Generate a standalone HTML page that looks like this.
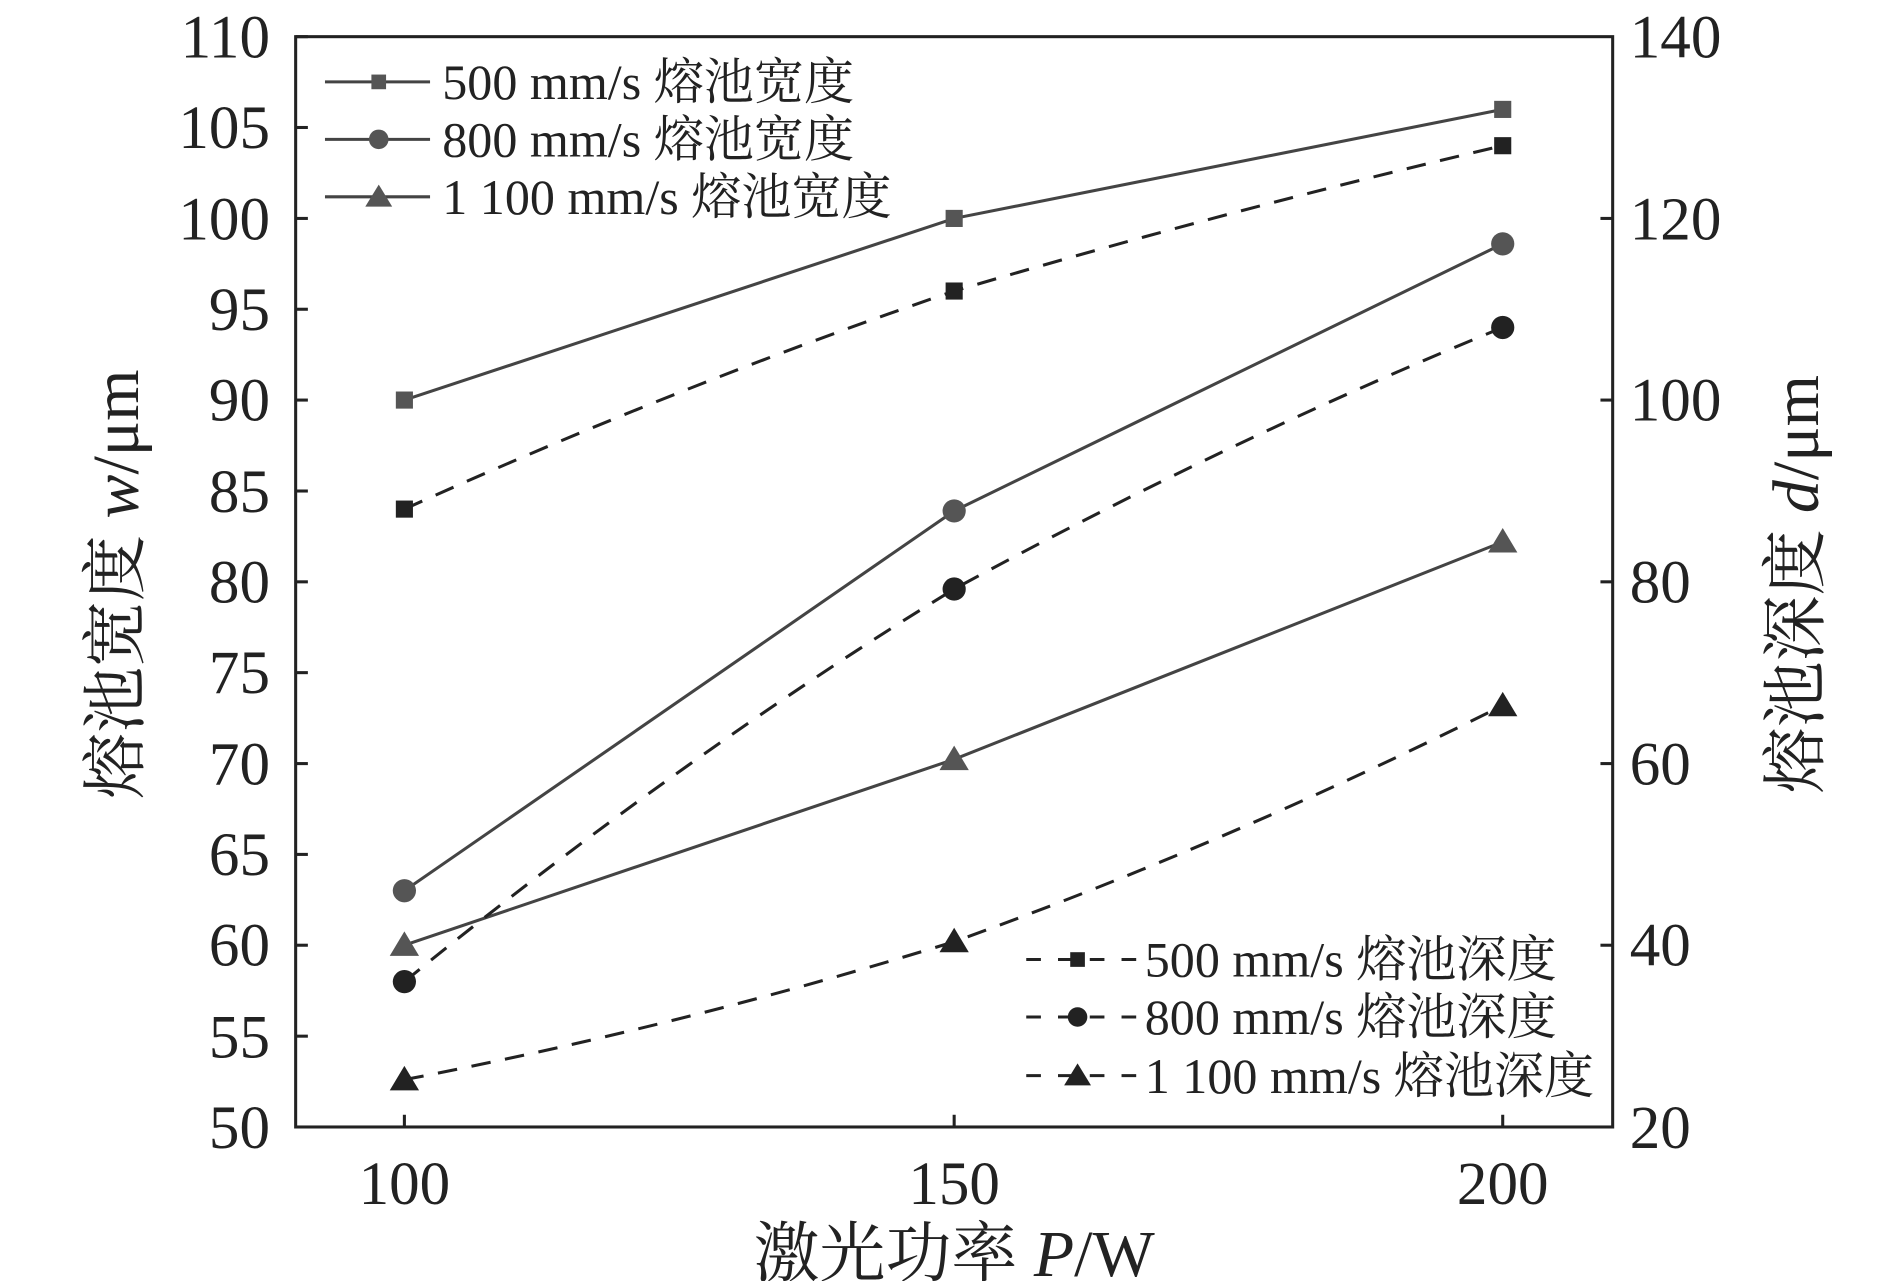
<!DOCTYPE html>
<html><head><meta charset="utf-8"><style>
html,body{margin:0;padding:0;background:#fff}
svg{display:block}
text{font-family:"Liberation Serif","Noto Serif CJK SC",serif;fill:#222}
</style></head><body>
<svg width="1890" height="1281" viewBox="0 0 1547 1048" preserveAspectRatio="none">
<rect x="242" y="30" width="1078" height="892" fill="none" stroke="#222" stroke-width="2.5"/>
<g stroke="#222" stroke-width="2.5">
<line x1="242" y1="30" x2="252" y2="30"/><line x1="242" y1="104.3" x2="252" y2="104.3"/><line x1="242" y1="178.7" x2="252" y2="178.7"/><line x1="242" y1="253" x2="252" y2="253"/><line x1="242" y1="327.3" x2="252" y2="327.3"/><line x1="242" y1="401.7" x2="252" y2="401.7"/><line x1="242" y1="476" x2="252" y2="476"/><line x1="242" y1="550.3" x2="252" y2="550.3"/><line x1="242" y1="624.7" x2="252" y2="624.7"/><line x1="242" y1="699" x2="252" y2="699"/><line x1="242" y1="773.3" x2="252" y2="773.3"/><line x1="242" y1="847.7" x2="252" y2="847.7"/>
<line x1="1320" y1="178.7" x2="1310" y2="178.7"/><line x1="1320" y1="327.3" x2="1310" y2="327.3"/><line x1="1320" y1="476" x2="1310" y2="476"/><line x1="1320" y1="624.7" x2="1310" y2="624.7"/><line x1="1320" y1="773.3" x2="1310" y2="773.3"/>
<line x1="331" y1="922" x2="331" y2="912"/><line x1="781" y1="922" x2="781" y2="912"/><line x1="1230" y1="922" x2="1230" y2="912"/>
</g>
<g font-size="50" text-anchor="end">
<text x="221" y="47">110</text><text x="221" y="121">105</text><text x="221" y="196">100</text><text x="221" y="270">95</text><text x="221" y="344">90</text><text x="221" y="419">85</text><text x="221" y="493">80</text><text x="221" y="567">75</text><text x="221" y="642">70</text><text x="221" y="716">65</text><text x="221" y="790">60</text><text x="221" y="865">55</text><text x="221" y="939">50</text>
</g>
<g font-size="50">
<text x="1334" y="47">140</text><text x="1334" y="196">120</text><text x="1334" y="344">100</text><text x="1334" y="493">80</text><text x="1334" y="642">60</text><text x="1334" y="790">40</text><text x="1334" y="939">20</text>
</g>
<g font-size="50" text-anchor="middle">
<text x="331" y="985">100</text><text x="781" y="985">150</text><text x="1230" y="985">200</text>
</g>
<g font-size="54" text-anchor="middle">
<text x="781" y="1044">激光功率 <tspan font-style="italic">P</tspan>/W</text>
<text transform="translate(113,478) rotate(-90)">熔池宽度 <tspan font-style="italic">w</tspan>/μm</text>
<text transform="translate(1488,478) rotate(-90)">熔池深度 <tspan font-style="italic">d</tspan>/μm</text>
</g>
<g fill="none" stroke="#444" stroke-width="2.5">
<polyline points="331,327.3 781,178.7 1230,89.5"/>
<polyline points="331,728.7 781,418 1230,199.5"/>
<polyline points="331,773.3 781,621.2 1230,443.3"/>
</g>
<g fill="none" stroke="#222" stroke-width="2.5" stroke-dasharray="16,12">
<path d="M331,416.5 Q556,315 781,238.1 Q1005,172 1230,119.2"/>
<path d="M331,803.1 Q556,620 781,481.9 Q1005,360 1230,267.9"/>
<path d="M331,883.3 Q556,840 781,770.4 Q1005,690 1230,577.1"/>
</g>
<g fill="#555">
<rect x="324" y="320.3" width="14" height="14"/><rect x="774" y="171.7" width="14" height="14"/><rect x="1223" y="82.5" width="14" height="14"/>
<circle cx="331" cy="728.7" r="9.5"/><circle cx="781" cy="418" r="9.5"/><circle cx="1230" cy="199.5" r="9.5"/>
<polygon points="331,762 343,782 319,782"/><polygon points="781,610 793,630 769,630"/><polygon points="1230,432 1242,452 1218,452"/>
</g>
<g fill="#222">
<rect x="324" y="409.5" width="14" height="14"/><rect x="774" y="231.1" width="14" height="14"/><rect x="1223" y="112.2" width="14" height="14"/>
<circle cx="331" cy="803.1" r="9.5"/><circle cx="781" cy="481.9" r="9.5"/><circle cx="1230" cy="267.9" r="9.5"/>
<polygon points="331,872 343,892 319,892"/><polygon points="781,759 793,779 769,779"/><polygon points="1230,566 1242,586 1218,586"/>
</g>
<g stroke="#444" stroke-width="2.5"><line x1="266" y1="67" x2="352" y2="67"/><line x1="266" y1="114" x2="352" y2="114"/><line x1="266" y1="161" x2="352" y2="161"/></g>
<g fill="#555"><rect x="304" y="61" width="12" height="12"/><circle cx="310" cy="114" r="8"/><polygon points="310,151 321,169 299,169"/></g>
<g font-size="41"><text x="362" y="81">500 mm/s 熔池宽度</text><text x="362" y="128">800 mm/s 熔池宽度</text><text x="362" y="175">1 100 mm/s 熔池宽度</text></g>
<g stroke="#222" stroke-width="2.5" stroke-dasharray="12,14"><line x1="840" y1="785" x2="930" y2="785"/><line x1="840" y1="832" x2="930" y2="832"/><line x1="840" y1="880" x2="930" y2="880"/></g>
<g fill="#222"><rect x="876" y="779" width="12" height="12"/><circle cx="882" cy="832" r="8"/><polygon points="882,870 893,888 871,888"/></g>
<g font-size="41"><text x="937" y="799">500 mm/s 熔池深度</text><text x="937" y="846">800 mm/s 熔池深度</text><text x="937" y="894">1 100 mm/s 熔池深度</text></g>
</svg>
</body></html>
